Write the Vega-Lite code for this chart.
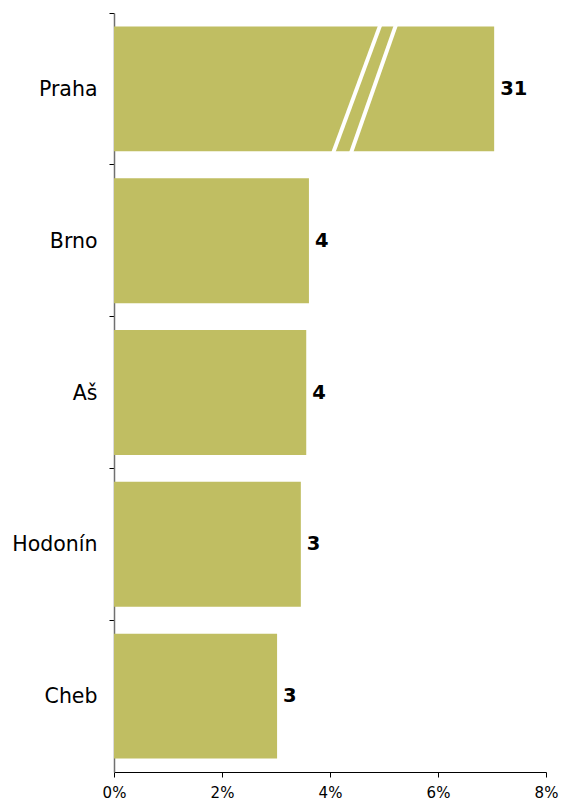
{
  "$schema": "https://vega.github.io/schema/vega-lite/v6.json",
  "width": 432,
  "height": 759,
  "autosize": {"type": "none"},
  "padding": {"left": 114, "top": 13, "right": 21, "bottom": 33},
  "config": {
    "view": {"stroke": null},
    "font": "DejaVu Sans",
    "axis": {"grid": false}
  },
  "datasets": {
    "cities": [
      {"city": "Praha", "share": 0.0704, "label": "31"},
      {"city": "Brno", "share": 0.0361, "label": "4"},
      {"city": "Aš", "share": 0.0356, "label": "4"},
      {"city": "Hodonín", "share": 0.0346, "label": "3"},
      {"city": "Cheb", "share": 0.0302, "label": "3"}
    ],
    "breaks": [
      {"x1": 0.0406, "x2": 0.0493, "y1": 0.92, "y2": 0.08},
      {"x1": 0.0439, "x2": 0.0522, "y1": 0.92, "y2": 0.08}
    ]
  },
  "layer": [
    {
      "data": {"name": "cities"},
      "encoding": {
        "y": {
          "field": "city",
          "type": "nominal",
          "sort": null,
          "title": null,
          "scale": {"paddingInner": 0, "paddingOuter": 0},
          "axis": {
            "bandPosition": 0,
            "labelFontSize": 20.5,
            "labelColor": "#000000",
            "labelPadding": 12,
            "labelOffset": 1,
            "tickSize": 5,
            "tickColor": "#000000",
            "domainColor": "#707070",
            "domainWidth": 1.5
          }
        },
        "x": {
          "field": "share",
          "type": "quantitative",
          "title": null,
          "scale": {"domain": [0, 0.08], "nice": false},
          "axis": {
            "values": [0, 0.02, 0.04, 0.06, 0.08],
            "format": ".0%",
            "labelFontSize": 15,
            "labelColor": "#000000",
            "labelPadding": 8,
            "tickSize": 5,
            "tickColor": "#000000",
            "domainColor": "#000000",
            "labelFlush": false
          }
        }
      },
      "layer": [
        {"mark": {"type": "bar", "color": "#C0BE62", "height": {"band": 0.823}}},
        {
          "mark": {"type": "text", "align": "left", "baseline": "middle", "dx": 6, "fontSize": 19.5, "fontWeight": "bold", "color": "#000000"},
          "encoding": {"text": {"field": "label"}}
        }
      ]
    },
    {
      "data": {"name": "breaks"},
      "mark": {"type": "rule", "color": "#FFFFFF", "strokeWidth": 4, "strokeCap": "butt"},
      "encoding": {
        "x": {"field": "x1", "type": "quantitative"},
        "x2": {"field": "x2"},
        "y": {"field": "y1", "type": "quantitative", "scale": {"domain": [0, 5], "reverse": true, "nice": false, "zero": false}, "axis": null},
        "y2": {"field": "y2"}
      }
    }
  ],
  "resolve": {"scale": {"y": "independent"}}
}
